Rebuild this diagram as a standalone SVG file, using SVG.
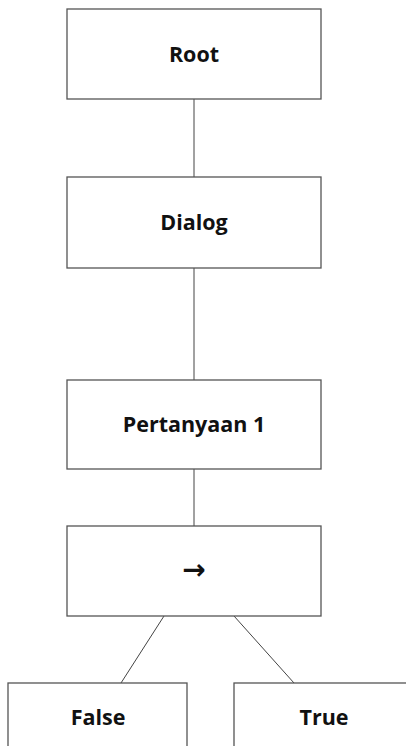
<svg xmlns="http://www.w3.org/2000/svg" width="406" height="746" viewBox="0 0 406 746">
<style>
.box{fill:#fff;stroke:#555;stroke-width:1.3}
.lbl{font-family:"Open Sans","Liberation Sans",sans-serif;font-weight:bold;font-size:21.5px;fill:#111;text-anchor:middle}
.edge{stroke:#444;stroke-width:1;fill:none}
</style>
<rect width="406" height="746" fill="#fff"/>
<g id="connectors">
<line class="edge" x1="194" y1="99" x2="194" y2="177"/>
<line class="edge" x1="194" y1="268" x2="194" y2="380"/>
<line class="edge" x1="194" y1="469" x2="194" y2="526"/>
<line class="edge" x1="164" y1="616" x2="121" y2="683"/>
<line class="edge" x1="234" y1="616" x2="294" y2="683"/>
</g>
<g id="root"><rect class="box" x="67" y="9" width="254" height="90"/><text class="lbl" x="194" y="62">Root</text></g>
<g id="dialog"><rect class="box" x="67" y="177" width="254" height="91"/><text class="lbl" x="194" y="230">Dialog</text></g>
<g id="pertanyaan1"><rect class="box" x="67" y="380" width="254" height="89"/><text class="lbl" x="194" y="432">Pertanyaan 1</text></g>
<g id="arrow"><rect class="box" x="67" y="526" width="254" height="90"/><text class="lbl" x="194" y="579" style="font-family:'DejaVu Sans',sans-serif;font-weight:bold;font-size:28px">→</text></g>
<g id="false"><rect class="box" x="8" y="683" width="179" height="80"/><text class="lbl" x="98" y="725">False</text></g>
<g id="true"><rect class="box" x="234" y="683" width="180" height="80"/><text class="lbl" x="324" y="725">True</text></g>
</svg>
